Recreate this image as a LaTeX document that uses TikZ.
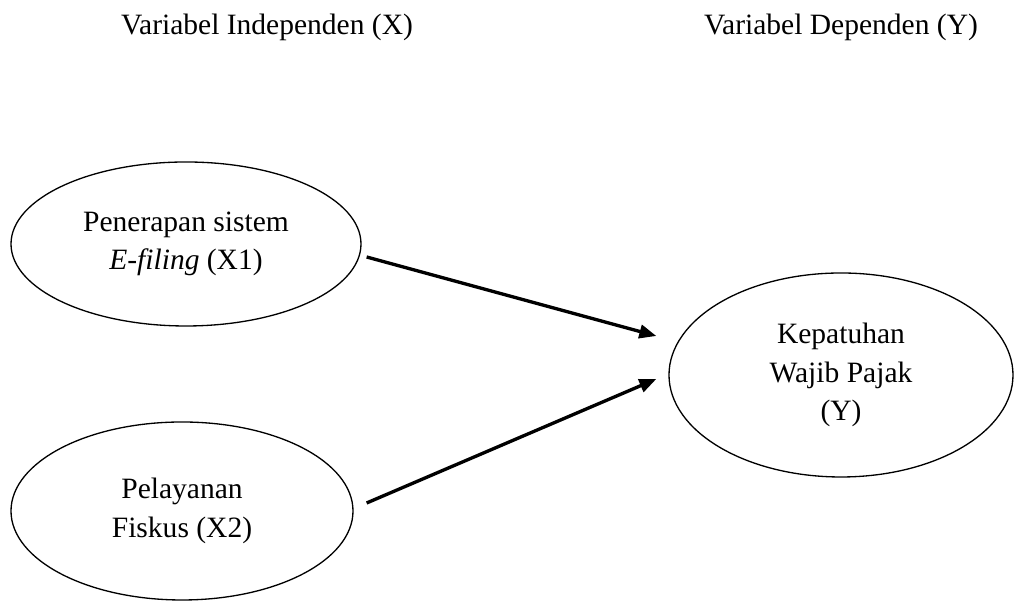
\documentclass[tikz,border=0pt]{standalone}
\usepackage{fontspec}
\setmainfont{Liberation Serif}
\usetikzlibrary{shapes.geometric,arrows.meta}

\begin{document}
\begin{tikzpicture}[font=\fontsize{16.8}{22}\selectfont,
  var/.style = {draw, ellipse, line width=0.75pt, align=center, inner sep=0pt},
  arr/.style = {line width=1.9pt, -{Triangle[length=0.34cm,width=0.27cm]}}]
        \useasboundingbox (0,0) rectangle (20.28,12.02);
        \node[anchor=base] (tx) at (5.34,11.32) {Variabel Independen (X)};
        \node[anchor=base] (ty) at (16.82,11.32) {Variabel Dependen (Y)};
        \node[var, minimum width=7cm, minimum height=3.28cm] (x1) at (3.72,7.14) {Penerapan sistem\\\textit{E-filing} (X1)};
        \node[var, minimum width=6.84cm, minimum height=3.56cm] (x2) at (3.64,1.80) {Pelayanan\\Fiskus (X2)};
        \node[var, minimum width=6.88cm, minimum height=4.08cm] (y) at (16.82,4.52) {Kepatuhan\\Wajib Pajak\\(Y)};
        \draw[arr] ([shift={(0.10,-0.26)}]x1.east) -- ([shift={(-0.24,0.78)}]y.west);
        \draw[arr] ([shift={(0.26,0.16)}]x2.east) -- ([shift={(-0.24,-0.08)}]y.west);
    \end{tikzpicture}
\end{document}
